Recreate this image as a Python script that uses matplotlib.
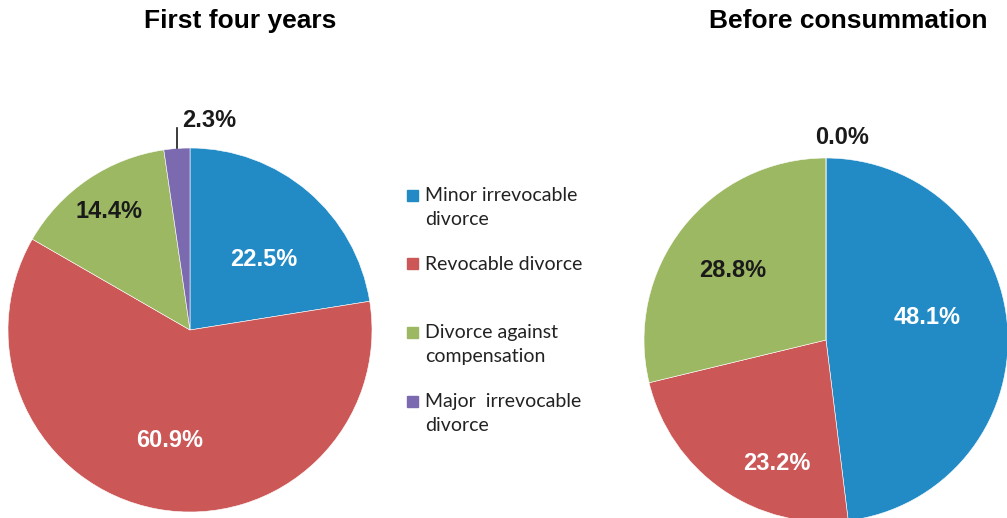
import numpy as np
import matplotlib.pyplot as plt
from matplotlib.patches import Rectangle

categories = ['Minor irrevocable\ndivorce', 'Revocable divorce',
              'Divorce against\ncompensation', 'Major  irrevocable\ndivorce']
first_four = [22.5, 60.9, 14.4, 2.3]
before_cons = [48.1, 23.2, 28.8, 0.0]
titles = ['First four years', 'Before consummation']

colors = ['#228BC6', '#CB5757', '#9DB863', '#7B6AAF']
txt_colors = ['white', 'white', '#1a1a1a', '#1a1a1a']

W, H = 1007, 518
fig = plt.figure(figsize=(W / 100, H / 100), dpi=100)
R = 182


def pie_axes(cx, cy):
    ax = fig.add_axes([(cx - R) / W, (H - cy - R) / H, 2 * R / W, 2 * R / H])
    return ax


lbl_font = dict(family='Liberation Sans', weight='bold', fontsize=17)


def draw_pie(ax, values, dists, shifts):
    wedges, _ = ax.pie(values, colors=colors, startangle=90, counterclock=False,
                       radius=1, wedgeprops=dict(edgecolor='white', linewidth=0.4))
    ax.set_xlim(-1, 1)
    ax.set_ylim(-1, 1)
    ax.axis('off')
    for i, w in enumerate(wedges):
        mid = np.deg2rad((w.theta1 + w.theta2) / 2 + shifts[i])
        d = dists[i]
        if values[i] < 3:
            continue
        ax.text(d * np.cos(mid), d * np.sin(mid), f'{values[i]:.1f}%',
                color=txt_colors[i], ha='center', va='center', **lbl_font)
    return wedges


# left pie
ax1 = pie_axes(190, 330)
w1 = draw_pie(ax1, first_four, [0.56, 0.62, 0.79, 1.0], [-6, 0, 0, 0])
m = np.deg2rad((w1[3].theta1 + w1[3].theta2) / 2)
x0 = np.cos(m)
ax1.plot([x0, x0], [np.sin(m), 1.11], color='#1a1a1a', lw=1.2, clip_on=False)
ax1.text(x0 + 0.03, 1.15, f'{first_four[3]:.1f}%', ha='left', va='center',
         color='#1a1a1a', clip_on=False, **lbl_font)

# right pie
ax2 = pie_axes(826, 340)
draw_pie(ax2, before_cons, [0.57, 0.73, 0.64, 1.0], [9, 13, 1.5, 0])
ax2.text(0.09, 1.11, f'{before_cons[3]:.1f}%', ha='center', va='center',
         color='#1a1a1a', clip_on=False, **lbl_font)

# titles
fig.text(240 / W, 1 - 21 / H, titles[0], ha='center', va='center',
         family='Liberation Sans', weight='bold', fontsize=19)
fig.text(848 / W, 1 - 21 / H, titles[1], ha='center', va='center',
         family='Liberation Sans', weight='bold', fontsize=19)

# legend
for i, lab in enumerate(categories):
    yc = 195 + i * 68.7
    fig.add_artist(Rectangle((407 / W, 1 - (yc + 5.5) / H), 11 / W, 11 / H,
                             transform=fig.transFigure, color=colors[i]))
    fig.text(425 / W, 1 - (yc - 8) / H, lab, ha='left', va='top',
             family='Lato', fontsize=14, color='#222222', linespacing=1.5)

fig.savefig('out.png', dpi=100)
